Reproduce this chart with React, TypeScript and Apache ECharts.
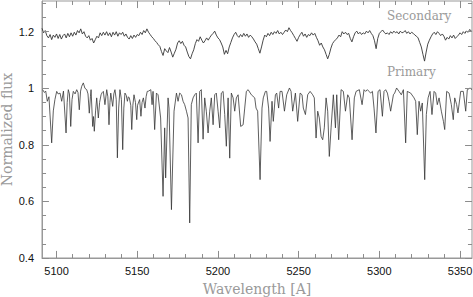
import React, { useEffect, useRef } from "react";
import * as echarts from "echarts";

// Wavelength range and ticks
const X_MIN = 5091;
const X_MAX = 5357.4;
const X_MAJOR = [5100, 5150, 5200, 5250, 5300, 5350];
const X_MINOR = [5110, 5120, 5130, 5140, 5160, 5170, 5180, 5190, 5210, 5220, 5230, 5240, 5260, 5270, 5280, 5290, 5310, 5320, 5330, 5340];
const Y_MIN = 0.4;
const Y_MAX = 1.3085;
const Y_MAJOR = [0.4, 0.6, 0.8, 1, 1.2];
const Y_MINOR = [0.45, 0.5, 0.55, 0.65, 0.7, 0.75, 0.85, 0.9, 0.95, 1.05, 1.1, 1.15, 1.25, 1.3];

// Secondary spectrum: sampled every 1 A starting at 5091 A
const SEC_START = 5091;
const SEC_STEP = 1;
const SECONDARY = [
  1.212, 1.196, 1.204, 1.186, 1.178, 1.190, 1.172, 1.188, 1.180, 1.192,
  1.176, 1.190, 1.174, 1.186, 1.192, 1.178, 1.194, 1.182, 1.196, 1.184,
  1.198, 1.188, 1.204, 1.196, 1.210, 1.192, 1.200, 1.184, 1.178, 1.186,
  1.170, 1.176, 1.160, 1.172, 1.184, 1.178, 1.196, 1.186, 1.198, 1.188,
  1.200, 1.186, 1.196, 1.182, 1.198, 1.188, 1.200, 1.184, 1.196, 1.190,
  1.198, 1.184, 1.192, 1.180, 1.174, 1.186, 1.176, 1.188, 1.180, 1.190,
  1.186, 1.198, 1.190, 1.204, 1.196, 1.210, 1.198, 1.190, 1.182, 1.176,
  1.168, 1.162, 1.154, 1.148, 1.130, 1.116, 1.140, 1.132, 1.126, 1.144,
  1.128, 1.110, 1.124, 1.138, 1.160, 1.168, 1.158, 1.166, 1.152, 1.146,
  1.128, 1.112, 1.104, 1.122, 1.136, 1.158, 1.172, 1.166, 1.182, 1.170,
  1.160, 1.168, 1.178, 1.170, 1.180, 1.188, 1.194, 1.202, 1.188, 1.178,
  1.172, 1.160, 1.146, 1.120, 1.134, 1.122, 1.146, 1.162, 1.178, 1.190,
  1.198, 1.186, 1.180, 1.190, 1.182, 1.194, 1.184, 1.192, 1.180, 1.188,
  1.182, 1.174, 1.164, 1.156, 1.140, 1.124, 1.146, 1.170, 1.188, 1.182,
  1.194, 1.186, 1.198, 1.190, 1.200, 1.194, 1.204, 1.192, 1.198, 1.190,
  1.198, 1.206, 1.200, 1.214, 1.204, 1.196, 1.186, 1.176, 1.166, 1.180,
  1.190, 1.198, 1.184, 1.192, 1.180, 1.190, 1.186, 1.196, 1.188, 1.194,
  1.180, 1.168, 1.152, 1.160, 1.146, 1.136, 1.120, 1.104, 1.120, 1.142,
  1.158, 1.166, 1.172, 1.178, 1.188, 1.182, 1.200, 1.192, 1.198, 1.190,
  1.194, 1.176, 1.164, 1.182, 1.196, 1.202, 1.192, 1.198, 1.190, 1.196,
  1.192, 1.202, 1.196, 1.204, 1.194, 1.186, 1.168, 1.140, 1.176, 1.194,
  1.200, 1.206, 1.198, 1.192, 1.196, 1.190, 1.200, 1.194, 1.202, 1.196,
  1.200, 1.192, 1.202, 1.196, 1.198, 1.204, 1.194, 1.200, 1.192, 1.198,
  1.194, 1.188, 1.184, 1.178, 1.162, 1.146, 1.120, 1.096, 1.128, 1.156,
  1.170, 1.182, 1.192, 1.198, 1.190, 1.200, 1.194, 1.186, 1.192, 1.184,
  1.170, 1.180, 1.174, 1.186, 1.178, 1.188, 1.176, 1.182, 1.188, 1.196,
  1.190, 1.200, 1.194, 1.202, 1.198, 1.208, 1.202,
];

// Primary spectrum: [wavelength (A), normalized flux]
const PRIMARY: [number, number][] = [
  [5091.4, 0.995], [5092.5, 0.985], [5093.3, 0.99], [5094.3, 0.954], [5095.3, 0.97],
  [5097.0, 0.807], [5098.0, 0.92], [5099.0, 0.96], [5100.1, 0.989], [5101.0, 0.98],
  [5102.2, 0.983], [5103.2, 0.954], [5104.3, 0.99], [5105.9, 0.842], [5106.6, 0.95],
  [5107.3, 0.995], [5108.0, 0.98], [5108.8, 0.865], [5109.6, 0.96], [5110.4, 0.989],
  [5111.5, 0.98], [5112.5, 0.995], [5113.3, 0.985], [5114.1, 0.924], [5114.9, 0.99],
  [5115.6, 1.007], [5116.6, 1.019], [5117.6, 1.0], [5118.7, 0.995], [5119.5, 0.98],
  [5120.3, 0.912], [5121.0, 0.97], [5121.4, 0.995], [5122.4, 0.865], [5122.9, 0.9],
  [5123.4, 0.848], [5124.2, 0.92], [5124.9, 0.966], [5125.9, 0.895], [5126.7, 0.95],
  [5127.6, 0.977], [5128.3, 0.985], [5129.0, 0.989], [5130.0, 0.942], [5131.1, 0.995],
  [5131.8, 0.97], [5132.5, 0.871], [5133.1, 0.95], [5133.6, 0.983], [5134.8, 0.936],
  [5135.5, 0.98], [5136.2, 0.995], [5137.0, 0.96], [5137.7, 0.754], [5138.5, 0.93],
  [5139.3, 0.995], [5140.2, 0.96], [5141.0, 0.783], [5141.7, 0.93], [5142.4, 0.983],
  [5143.2, 0.975], [5143.9, 0.954], [5144.5, 0.97], [5145.1, 0.966], [5146.0, 0.94],
  [5146.6, 0.854], [5147.3, 0.94], [5148.0, 0.977], [5148.9, 0.95], [5149.7, 0.889],
  [5150.2, 0.94], [5150.7, 0.948], [5151.5, 0.96], [5152.3, 0.901], [5153.0, 0.95],
  [5153.8, 0.966], [5154.8, 0.93], [5155.5, 0.97], [5156.2, 0.989], [5157.0, 0.99],
  [5158.4, 0.995], [5159.2, 0.942], [5159.8, 0.989], [5160.8, 0.854], [5161.9, 0.983],
  [5162.9, 0.977], [5164.5, 0.895], [5166.0, 0.618], [5167.0, 0.86], [5167.6, 0.683],
  [5169.1, 0.966], [5169.7, 0.93], [5171.2, 0.571], [5172.8, 0.919], [5174.3, 0.983],
  [5175.3, 0.954], [5176.3, 0.983], [5177.4, 0.977], [5178.4, 0.954], [5179.4, 0.942],
  [5180.5, 0.919], [5181.5, 0.895], [5182.5, 0.524], [5183.5, 0.942], [5184.6, 0.966],
  [5185.6, 0.977], [5186.6, 0.983], [5187.7, 0.807], [5188.7, 0.989], [5189.7, 0.995],
  [5190.8, 0.82], [5191.8, 0.966], [5192.8, 0.919], [5193.9, 0.842], [5194.9, 0.919],
  [5195.9, 0.966], [5197.0, 0.871], [5198.0, 0.977], [5199.0, 0.983], [5200.1, 0.919],
  [5201.1, 0.86], [5202.1, 0.983], [5203.2, 0.989], [5204.2, 0.907], [5205.2, 0.795],
  [5206.3, 0.966], [5207.3, 0.753], [5208.3, 0.983], [5209.4, 0.966], [5210.4, 0.919],
  [5211.4, 0.966], [5212.5, 0.977], [5214.1, 0.865], [5215.6, 0.871], [5216.6, 0.93],
  [5217.6, 0.989], [5218.7, 0.995], [5220.7, 0.977], [5222.8, 0.966],
  [5223.6, 0.93], [5224.6, 0.919], [5226.1, 0.677], [5227.3, 0.93], [5228.1, 0.966],
  [5229.4, 0.989], [5230.2, 0.989], [5231.4, 0.93], [5232.3, 0.812], [5233.5, 0.954],
  [5234.3, 0.883], [5235.6, 0.977], [5236.4, 0.983], [5237.6, 0.93], [5238.5, 0.989],
  [5239.7, 0.989], [5241.2, 0.919], [5242.6, 0.977], [5244.3, 1.001], [5245.3, 0.989],
  [5246.3, 0.919], [5248.0, 0.983], [5249.4, 0.883], [5250.9, 0.983], [5252.1, 0.977],
  [5252.9, 0.93], [5254.2, 0.907], [5255.6, 0.977], [5257.1, 0.989], [5258.7, 0.977],
  [5259.7, 0.966], [5260.8, 0.824], [5261.8, 0.919], [5262.8, 0.895], [5263.9, 0.83],
  [5264.9, 0.818], [5265.9, 0.86], [5267.0, 0.966], [5268.0, 0.919], [5269.0, 0.759],
  [5270.1, 0.86], [5271.5, 0.977], [5272.8, 0.86], [5273.6, 0.977], [5274.8, 0.818],
  [5276.3, 0.995], [5277.7, 0.989], [5279.0, 0.919], [5280.4, 0.977], [5281.4, 0.966],
  [5283.1, 0.818], [5284.5, 0.966], [5285.6, 0.989], [5287.6, 0.995], [5289.3, 0.942],
  [5290.5, 0.995], [5291.5, 0.989], [5292.6, 0.995], [5293.6, 0.989], [5294.6, 0.983],
  [5295.7, 0.989], [5296.7, 0.93], [5297.9, 0.842], [5299.2, 0.989], [5300.4, 0.995],
  [5301.9, 0.901], [5302.9, 0.989], [5303.9, 0.995], [5305.0, 0.983], [5306.0, 0.954],
  [5307.0, 0.919], [5308.7, 0.977], [5309.5, 0.983], [5310.7, 1.001], [5312.2, 0.989],
  [5313.6, 0.977], [5314.9, 0.995], [5316.3, 0.807], [5317.3, 0.989], [5319.4, 0.983],
  [5321.5, 0.966], [5322.5, 0.954], [5323.5, 0.836], [5324.6, 0.954], [5325.6, 0.919],
  [5326.6, 0.948], [5328.1, 0.677], [5329.1, 0.907], [5330.2, 0.966], [5331.4, 0.989],
  [5332.6, 0.907], [5333.9, 0.989], [5334.9, 0.983], [5335.9, 0.942], [5337.0, 0.966],
  [5338.4, 0.919], [5339.7, 0.883], [5340.5, 0.854], [5341.7, 0.989], [5343.2, 0.983],
  [5344.6, 0.942], [5345.8, 0.889], [5346.7, 0.966], [5347.9, 0.942], [5348.7, 0.913],
  [5350.4, 0.989], [5352.0, 0.989], [5353.5, 0.919], [5354.5, 0.995], [5356.2, 1.001],
  [5357.4, 0.995],
];

const X_TITLE = "Wavelength [A]";
const Y_TITLE = "Normalized flux";
const LABEL_SECONDARY = "Secondary";
const LABEL_PRIMARY = "Primary";

const FRAME = "#999999";
const TICK = "#8c8c8c";
const NAME_COLOR = "#9a9a9a";
const LINE_COLOR = "#363636";

// tick lengths expressed in each axis's own data units (about 7 px and 4 px)
const X_TICK_MAJOR = 0.025; // flux units, for ticks on the wavelength axes
const X_TICK_MINOR = 0.014;
const Y_TICK_MAJOR = 4.3; // angstrom, for ticks on the flux axes
const Y_TICK_MINOR = 2.5;

export default function App() {
  const ref = useRef<HTMLDivElement>(null);
  useEffect(() => {
    if (!ref.current) return;
    const chart = echarts.init(ref.current, undefined, { renderer: "svg" });
    const secData = SECONDARY.map((v, i) => [SEC_START + i * SEC_STEP, v]);

    const seg = (a: number[], b: number[]) => [{ coord: a }, { coord: b }];
    const tickLines: any[] = [];
    X_MAJOR.forEach((v) => {
      tickLines.push(seg([v, Y_MIN], [v, Y_MIN + X_TICK_MAJOR]));
      tickLines.push(seg([v, Y_MAX], [v, Y_MAX - X_TICK_MAJOR]));
    });
    X_MINOR.forEach((v) => {
      tickLines.push(seg([v, Y_MIN], [v, Y_MIN + X_TICK_MINOR]));
      tickLines.push(seg([v, Y_MAX], [v, Y_MAX - X_TICK_MINOR]));
    });
    Y_MAJOR.forEach((v) => {
      tickLines.push(seg([X_MIN, v], [X_MIN + Y_TICK_MAJOR, v]));
      tickLines.push(seg([X_MAX, v], [X_MAX - Y_TICK_MAJOR, v]));
    });
    Y_MINOR.forEach((v) => {
      tickLines.push(seg([X_MIN, v], [X_MIN + Y_TICK_MINOR, v]));
      tickLines.push(seg([X_MAX, v], [X_MAX - Y_TICK_MINOR, v]));
    });

    chart.setOption({
      animation: false,
      backgroundColor: "#ffffff",
      grid: { left: 42, right: 1, top: 1, bottom: 39, show: true, borderColor: FRAME, borderWidth: 1, backgroundColor: "transparent", containLabel: false, outerBoundsMode: "none" },
      xAxis: {
        type: "value",
        min: X_MIN,
        max: X_MAX,
        axisLine: { show: true, onZero: false, lineStyle: { color: FRAME, width: 1 } },
        splitLine: { show: false },
        axisTick: { show: false },
        axisLabel: { show: true, customValues: X_MAJOR, color: "#111", fontFamily: "Liberation Sans", fontSize: 11, margin: 7, formatter: (v: number) => String(v) },
        name: X_TITLE,
        nameLocation: "middle",
        nameGap: 24,
        nameMoveOverlap: false,
        nameTextStyle: { color: NAME_COLOR, fontFamily: "DejaVu Serif", fontSize: 14 },
      },
      yAxis: {
        type: "value",
        min: Y_MIN,
        max: Y_MAX,
        axisLine: { show: true, onZero: false, lineStyle: { color: FRAME, width: 1 } },
        splitLine: { show: false },
        axisTick: { show: false },
        axisLabel: { show: true, customValues: Y_MAJOR, color: "#111", fontFamily: "Liberation Sans", fontSize: 11, margin: 8, formatter: (v: number) => String(Math.round(v * 100) / 100) },
        name: Y_TITLE,
        nameLocation: "middle",
        nameGap: 28,
        nameMoveOverlap: false,
        nameTextStyle: { color: NAME_COLOR, fontFamily: "DejaVu Serif", fontSize: 14 },
      },
      series: [
        {
          type: "line",
          name: "Secondary",
          data: secData,
          showSymbol: false,
          symbol: "none",
          lineStyle: { color: LINE_COLOR, width: 0.9 },
          silent: true,
        },
        {
          type: "line",
          name: "Primary",
          data: PRIMARY,
          showSymbol: false,
          symbol: "none",
          lineStyle: { color: LINE_COLOR, width: 0.8 },
          silent: true,
          markLine: {
            silent: true,
            animation: false,
            symbol: ["none", "none"],
            label: { show: false },
            emphasis: { disabled: true },
            lineStyle: { color: TICK, width: 1, type: "solid" },
            data: tickLines,
          },
        },
      ],
      graphic: [
        { type: "text", left: 387, top: 10, style: { text: LABEL_SECONDARY, fill: NAME_COLOR, font: "12px 'DejaVu Serif'" } },
        { type: "text", left: 387, top: 66, style: { text: LABEL_PRIMARY, fill: NAME_COLOR, font: "12px 'DejaVu Serif'" } },
      ],
    });
    return () => chart.dispose();
  }, []);
  return <div ref={ref} style={{ position: "fixed", left: 0, top: 0, width: 473, height: 297 }} />;
}
